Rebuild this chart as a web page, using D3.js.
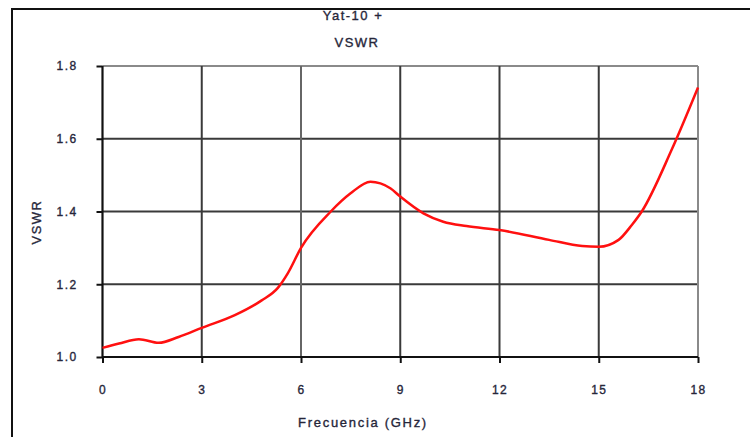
<!DOCTYPE html>
<html>
<head>
<meta charset="utf-8">
<script src="https://cdn.jsdelivr.net/npm/d3@7"></script>
<style>
  body { margin: 0; background: #fff; }
  svg { display: block; font-family: "Liberation Sans", Arial, sans-serif; }
</style>
</head>
<body>
<div id="chart"></div>
<script>
// Chart data
const titleLines = ["Yat-10 +", "VSWR"];
const freq = [0, 0.5, 1.1, 1.7, 2.3, 3.0, 4.0, 4.8, 5.3, 5.6, 6.0, 6.9, 7.5, 8.1, 8.7, 9.0, 9.7, 10.3, 11.0, 12.0, 13.5, 14.5, 15.0, 15.6, 16.0, 16.3, 17.2, 18];
const vswr = [1.025, 1.037, 1.049, 1.039, 1.055, 1.08, 1.115, 1.155, 1.19, 1.23, 1.30, 1.40, 1.45, 1.482, 1.464, 1.441, 1.395, 1.372, 1.36, 1.349, 1.322, 1.305, 1.303, 1.322, 1.363, 1.40, 1.569, 1.741];
const xTicks = [0, 3, 6, 9, 12, 15, 18];
const yTicks = [1.0, 1.2, 1.4, 1.6, 1.8];

const W = 750, H = 437;
const margin = {top: 66, right: 52, bottom: 80, left: 102.5};
const width = W - margin.left - margin.right;
const height = H - margin.top - margin.bottom;

const svg = d3.select("#chart").append("svg")
    .attr("width", W)
    .attr("height", H);

// outer frame (runs off the right and bottom edges)
svg.append("rect")
    .attr("x", 12).attr("y", 9)
    .attr("width", 800).attr("height", 500)
    .attr("fill", "none")
    .attr("stroke", "#111")
    .attr("stroke-width", 2);

const g = svg.append("g").attr("transform", `translate(${margin.left},${margin.top})`);

const x = d3.scaleLinear().domain([0, 18]).range([0, width]);
const y = d3.scaleLinear().domain([1.0, 1.8]).range([height, 0]);

const textColor = "#26263a";

// text look: letter-spaced, slightly heavy
function styleText(sel, size, spacing) {
    sel.attr("fill", textColor)
        .attr("stroke", textColor)
        .attr("stroke-width", 0.35)
        .style("font-size", size + "px")
        .style("font-weight", "normal")
        .style("letter-spacing", spacing + "px");
}

// grid
g.selectAll(".hgrid").data(yTicks.slice(1))
    .join("line")
    .attr("x1", 0).attr("x2", width)
    .attr("y1", d => y(d)).attr("y2", d => y(d))
    .attr("stroke", d => d === 1.8 ? "#8a8a8a" : "#3a3a3a")
    .attr("stroke-width", 2);

g.selectAll(".vgrid").data(xTicks.slice(1))
    .join("line")
    .attr("x1", d => x(d)).attr("x2", d => x(d))
    .attr("y1", 0).attr("y2", height)
    .attr("stroke", d => d === 18 ? "#8a8a8a" : (d === 6 ? "#666" : "#3a3a3a"))
    .attr("stroke-width", 2);

// axes
const xAxis = g.append("g")
    .attr("transform", `translate(0,${height})`)
    .call(d3.axisBottom(x).tickValues(xTicks).tickSize(6).tickPadding(22).tickFormat(d3.format("d")));
const yAxis = g.append("g")
    .call(d3.axisLeft(y).tickValues(yTicks).tickSize(6).tickPadding(20).tickFormat(d3.format(".1f")));

[xAxis, yAxis].forEach(ax => {
    ax.select(".domain").attr("stroke", "#111").attr("stroke-width", 2.2);
    ax.selectAll(".tick line").attr("stroke", "#111").attr("stroke-width", 2);
    ax.selectAll(".tick text").call(styleText, 12, 1.4);
});
xAxis.select(".domain").attr("d", `M0,0H${width}`);
yAxis.select(".domain").attr("d", `M0,0V${height}`);
yAxis.selectAll(".tick text").attr("x", -25);

// series
g.append("path")
    .datum(freq.map((f, i) => ({f, v: vswr[i]})))
    .attr("fill", "none")
    .attr("stroke", "#ff1010")
    .attr("stroke-width", 2.5)
    .attr("d", d3.line().curve(d3.curveMonotoneX).x(d => x(d.f)).y(d => y(d.v)));

// titles
svg.selectAll(".title").data(titleLines)
    .join("text")
    .attr("x", (d, i) => i === 0 ? 353 : 357)
    .attr("y", (d, i) => 20 + i * 27)
    .attr("text-anchor", "middle")
    .call(styleText, 13, 1.5)
    .text(d => d);

// axis labels
svg.append("text")
    .attr("x", 363).attr("y", 427)
    .attr("text-anchor", "middle")
    .call(styleText, 13, 1.7)
    .text("Frecuencia (GHz)");

svg.append("text")
    .attr("transform", "translate(41,222) rotate(-90)")
    .attr("text-anchor", "middle")
    .call(styleText, 13, 1.5)
    .text("VSWR");
</script>
</body>
</html>
